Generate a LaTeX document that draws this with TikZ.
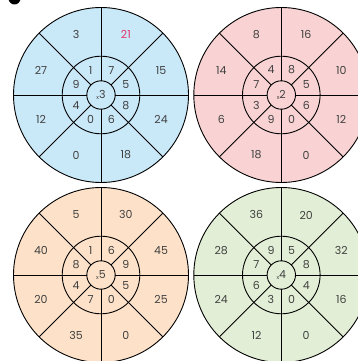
\documentclass[tikz,border=0pt]{standalone}
\usepackage{fontspec}
\setmainfont{Poppins}
\usetikzlibrary{calc}
\definecolor{cblue}{HTML}{C9E8F8}
\definecolor{cpink}{HTML}{F9D3D3}
\definecolor{corange}{HTML}{FDE2C9}
\definecolor{cgreen}{HTML}{E2EFD6}
\definecolor{ctext}{HTML}{404040}
\definecolor{cred}{HTML}{E6336B}
\tikzset{
  lbl/.style={text=ctext, font=\fontsize{11}{11}\selectfont, inner sep=0pt},
  ring/.style={draw=black, line width=0.9pt},
  spoke/.style={draw=black, line width=0.9pt},
}
\newcommand\mywheel[7]{%
  \fill[#3] (#1,#2) circle (87.5);
  \foreach \a in {0,45,...,315} {
    \draw[spoke] ($(#1,#2)+(\a:14.2)$) -- ($(#1,#2)+(\a:87.5)$);
  }
  \draw[ring] (#1,#2) circle (87.5);
  \draw[ring] (#1,#2) circle (38.8);
  \draw[ring] (#1,#2) circle (14.2);
  \foreach \t [count=\i from 0] in {#5} {
    \node[lbl] (#7o\i) at ($(#1,#2)+({112.5-45*\i}:65)$) {\t};
  }
  \foreach \t [count=\i from 0] in {#6} {
    \node[lbl] (#7i\i) at ($(#1,#2)+({112.5-45*\i}:27)$) {\t};
  }
  \node[lbl] (#7c) at (#1,#2) {\raisebox{-1pt}{\fontsize{5.5}{5.5}\selectfont x}#4};
}
\begin{document}
\begin{tikzpicture}[x=1pt,y=1pt]
\clip (0,0) rectangle (358,-361);
\useasboundingbox (0,0) rectangle (358,-361);
\fill[black] (14.5,1.5) circle (6);
\mywheel{101}{-95}{cblue}{3}{3,{\textcolor{cred}{21}},15,24,18,0,12,27}{1,7,5,8,6,0,4,9}{a}
\mywheel{281.3}{-95}{cpink}{2}{8,16,10,12,0,18,6,14}{4,8,5,6,0,9,3,7}{b}
\mywheel{101}{-275}{corange}{5}{5,30,45,25,0,35,20,40}{1,6,9,5,0,7,4,8}{c}
\mywheel{281.3}{-275}{cgreen}{4}{36,20,32,16,0,12,24,28}{9,5,8,4,0,3,6,7}{d}
\end{tikzpicture}
\end{document}
